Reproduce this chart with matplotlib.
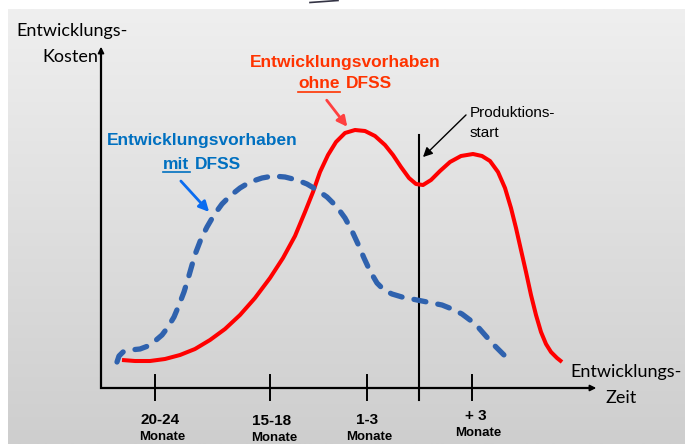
import numpy as np
import matplotlib
matplotlib.use("Agg")
import matplotlib.pyplot as plt

# curves (pixel coords, y grows downwards)
ohne_x = [122, 135, 150, 165, 180, 195, 210, 225, 240, 255, 270, 283, 295, 305, 313, 320, 328, 336, 345, 355,
          365, 375, 385, 393, 401, 409, 416, 423, 431, 440, 450, 461, 473, 482, 490, 498, 505, 511, 516, 521,
          526, 531, 536, 541, 546, 551, 557, 562]
ohne_y = [360, 361, 361, 359, 355, 349, 340, 329, 315, 298, 278, 258, 236, 212, 192, 172, 155, 142, 133, 130,
          131, 136, 145, 155, 167, 178, 184, 185, 180, 171, 162, 156, 154, 156, 161, 172, 188, 208, 228, 250,
          272, 295, 315, 332, 344, 352, 358, 362]

mit_x = [117, 119, 123, 130, 140, 148, 155, 162, 168, 174, 179, 184, 188, 192, 196, 201, 207, 214, 222, 230,
         240, 250, 262, 273, 285, 297, 307, 317, 327, 337, 345, 352, 358, 364, 370, 377, 384, 392, 402, 412,
         422, 432, 442, 452, 462, 470, 478, 485, 492, 500, 506, 512]
mit_y = [362, 356, 352, 350, 349, 346, 341, 335, 327, 317, 305, 292, 279, 265, 252, 239, 227, 215, 204, 196,
         188, 182, 178, 176, 177, 180, 184, 190, 197, 207, 218, 231, 244, 258, 271, 283, 290, 294, 297, 299,
         301, 303, 305, 309, 314, 320, 327, 335, 343, 351, 357, 362]

tick_x = [155, 270, 367, 472]
tick_top = ["20-24", "15-18", "1-3", "+ 3"]
tick_label_x = [160, 272, 367, 476]
tick_label_y = [420, 421, 420, 416]
start_x = 419

fig = plt.figure(figsize=(6.85, 4.44), dpi=100)
ax = fig.add_axes([0, 0, 1, 1])
ax.set_xlim(0, 685)
ax.set_ylim(444, 0)
ax.axis("off")

# grey gradient background
grad = np.linspace(239, 206, 256).reshape(-1, 1) / 255.0
grad = np.repeat(grad, 3, axis=1).reshape(-1, 1, 3)
ax.imshow(grad, extent=(8, 685, 444, 10), aspect="auto", zorder=0, interpolation="bilinear")
ax.plot([310, 338], [2.5, 0.5], color="#333344", lw=1.2, zorder=1)

# axes with arrows
ax.plot([101, 101, 592], [50, 388, 388], color="black", lw=1.6, zorder=2, solid_joinstyle="miter")
ax.annotate("", xy=(101, 44), xytext=(101, 56),
            arrowprops=dict(arrowstyle="-|>", color="black", lw=1.2, mutation_scale=9))
ax.annotate("", xy=(599, 388), xytext=(587, 388),
            arrowprops=dict(arrowstyle="-|>", color="black", lw=1.2, mutation_scale=9))
for tx in tick_x:
    ax.plot([tx, tx], [375, 400], color="black", lw=1.4, zorder=2)
ax.plot([start_x, start_x], [135, 400], color="black", lw=1.5, zorder=2)

# curves
ax.plot(ohne_x, ohne_y, color="#ff0000", lw=2.9, solid_capstyle="butt", zorder=3)
ax.plot(mit_x, mit_y, color="#2f62ae", lw=3.8, linestyle=(0, (2.3, 2.3)),
        dash_capstyle="round", zorder=4)

cal = ["Lato", "DejaVu Sans"]
ari = ["Liberation Sans", "DejaVu Sans"]

ax.text(72, 31, "Entwicklungs-", fontsize=13, family=cal, ha="center", va="center")
ax.text(98, 57, "Kosten", fontsize=13, family=cal, ha="right", va="center")
ax.text(570, 372, "Entwicklungs-", fontsize=13, family=cal, ha="left", va="center")
ax.text(621, 398, "Zeit", fontsize=13, family=cal, ha="center", va="center")

for lx, ly, lab in zip(tick_label_x, tick_label_y, tick_top):
    ax.text(lx, ly, lab, fontsize=11, family=ari, weight="bold", ha="center", va="center")
    ax.text(lx + 2, ly + 17, "Monate", fontsize=9.5, family=ari, weight="bold", ha="center", va="center")

red = "#ff3300"
blue = "#0070c0"
ax.text(345, 62, "Entwicklungsvorhaben", fontsize=12.5, family=ari, weight="bold", color=red,
        ha="center", va="center")
ax.text(298, 84, "ohne", fontsize=12.5, family=ari, weight="bold", color=red, ha="left", va="center")
ax.text(346, 84, "DFSS", fontsize=12.5, family=ari, weight="bold", color=red, ha="left", va="center")
ax.plot([298, 340], [92, 92], color=red, lw=1.2)
ax.annotate("", xy=(349, 129), xytext=(325, 98),
            arrowprops=dict(arrowstyle="-|>", color="#ff4040", lw=2, mutation_scale=15))

ax.text(202, 140, "Entwicklungsvorhaben", fontsize=12.5, family=ari, weight="bold", color=blue,
        ha="center", va="center")
ax.text(163, 164, "mit", fontsize=12.5, family=ari, weight="bold", color=blue, ha="left", va="center")
ax.text(195, 164, "DFSS", fontsize=12.5, family=ari, weight="bold", color=blue, ha="left", va="center")
ax.plot([163, 190], [172, 172], color=blue, lw=1.2)
ax.annotate("", xy=(211, 214), xytext=(179, 179),
            arrowprops=dict(arrowstyle="-|>", color="#0a6cf0", lw=2, mutation_scale=15))

ax.text(470, 113, "Produktions-", fontsize=11, family=ari, ha="left", va="center")
ax.text(470, 133, "start", fontsize=11, family=ari, ha="left", va="center")
ax.annotate("", xy=(421, 159), xytext=(468, 113),
            arrowprops=dict(arrowstyle="-|>", color="black", lw=1.0, mutation_scale=14))

fig.savefig("out.png", dpi=100)
